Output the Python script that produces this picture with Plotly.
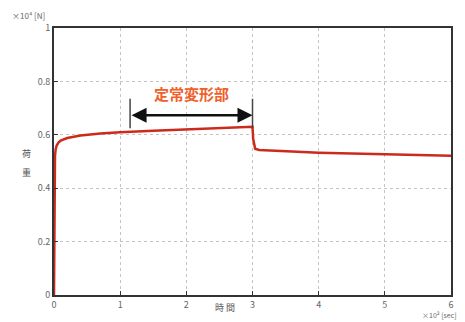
import plotly.graph_objects as go

# Data
time_x100s = [0, 0.004, 0.008, 0.015, 0.025, 0.04, 0.07, 0.1, 0.2, 0.4, 0.7, 1.0, 1.5, 2.0, 2.5, 3.0,
              3.01, 3.04, 3.1, 3.3, 3.6, 4.0, 4.5, 5.0, 5.5, 6.0]
load_x1e4N = [0, 0.25, 0.45, 0.52, 0.545, 0.56, 0.572, 0.578, 0.588, 0.597, 0.605, 0.61, 0.615, 0.62,
              0.625, 0.63, 0.585, 0.548, 0.543, 0.54, 0.537, 0.533, 0.53, 0.527, 0.524, 0.522]

x_ticks = [0, 1, 2, 3, 4, 5, 6]
y_ticks = [0, 0.2, 0.4, 0.6, 0.8, 1]
y_tick_labels = ["0", "0.2", "0.4", "0.6", "0.8", "1"]

span_label = "定常変形部"
span_start, span_end = 1.15, 3.0
span_y = 0.673

font_fam = "Noto Sans CJK JP, Noto Sans, sans-serif"

fig = go.Figure()
fig.add_trace(go.Scatter(x=time_x100s, y=load_x1e4N, mode="lines",
                         line=dict(color="#cc2b1c", width=2.5), showlegend=False))

axis_common = dict(showgrid=True, gridcolor="#c4c4c4", griddash="dot", gridwidth=1,
                   zeroline=False, showline=True, linecolor="#333333", linewidth=2, mirror=True,
                   ticks="inside", ticklen=4, tickcolor="#333333",
                   tickfont=dict(size=9, color="#666666", family=font_fam))

fig.update_xaxes(range=[0, 6], tickvals=x_ticks, **axis_common)
fig.update_yaxes(range=[0, 1], tickvals=y_ticks, ticktext=y_tick_labels, **axis_common)

# Double-headed arrow
fig.add_annotation(x=span_end, y=span_y, ax=span_start, ay=span_y, xref="x", yref="y",
                   axref="x", ayref="y", showarrow=True, arrowhead=2, arrowside="end+start",
                   arrowsize=1.2, arrowwidth=2.5, arrowcolor="#111111", text="")
for xv in (span_start, span_end):
    fig.add_shape(type="line", x0=xv, x1=xv, y0=0.625, y1=0.735, xref="x", yref="y",
                  line=dict(color="#444444", width=1.5))
fig.add_annotation(x=(span_start + span_end) / 2, y=0.755, xref="x", yref="y", showarrow=False,
                   text="<b>" + span_label + "</b>",
                   font=dict(size=15, color="#f0602a", family=font_fam))

# Axis titles / unit labels
fig.add_annotation(x=-0.11, y=1.048, xref="paper", yref="paper", xanchor="left", yanchor="middle",
                   showarrow=False, text="×10⁴ [N]",
                   font=dict(size=8, color="#666666", family=font_fam))
fig.add_annotation(x=-0.085, y=0.529, xref="paper", yref="paper", showarrow=False,
                   text="荷", font=dict(size=9, color="#555555", family=font_fam))
fig.add_annotation(x=-0.085, y=0.46, xref="paper", yref="paper", showarrow=False,
                   text="重", font=dict(size=9, color="#555555", family=font_fam))
fig.add_annotation(x=0.43, y=-0.048, xref="paper", yref="paper", showarrow=False, yanchor="middle",
                   text="時 間", font=dict(size=9, color="#555555", family=font_fam))
fig.add_annotation(x=1.02, y=-0.075, xref="paper", yref="paper", showarrow=False,
                   xanchor="right", yanchor="middle", text="×10² [sec]",
                   font=dict(size=7, color="#666666", family=font_fam))

fig.update_layout(width=465, height=322, margin=dict(l=54, r=11, t=28, b=22),
                  plot_bgcolor="white", paper_bgcolor="white")

fig.write_html("out.html", config={"displayModeBar": False},
               post_script="document.body.style.margin='0';document.body.style.overflow='hidden';")
